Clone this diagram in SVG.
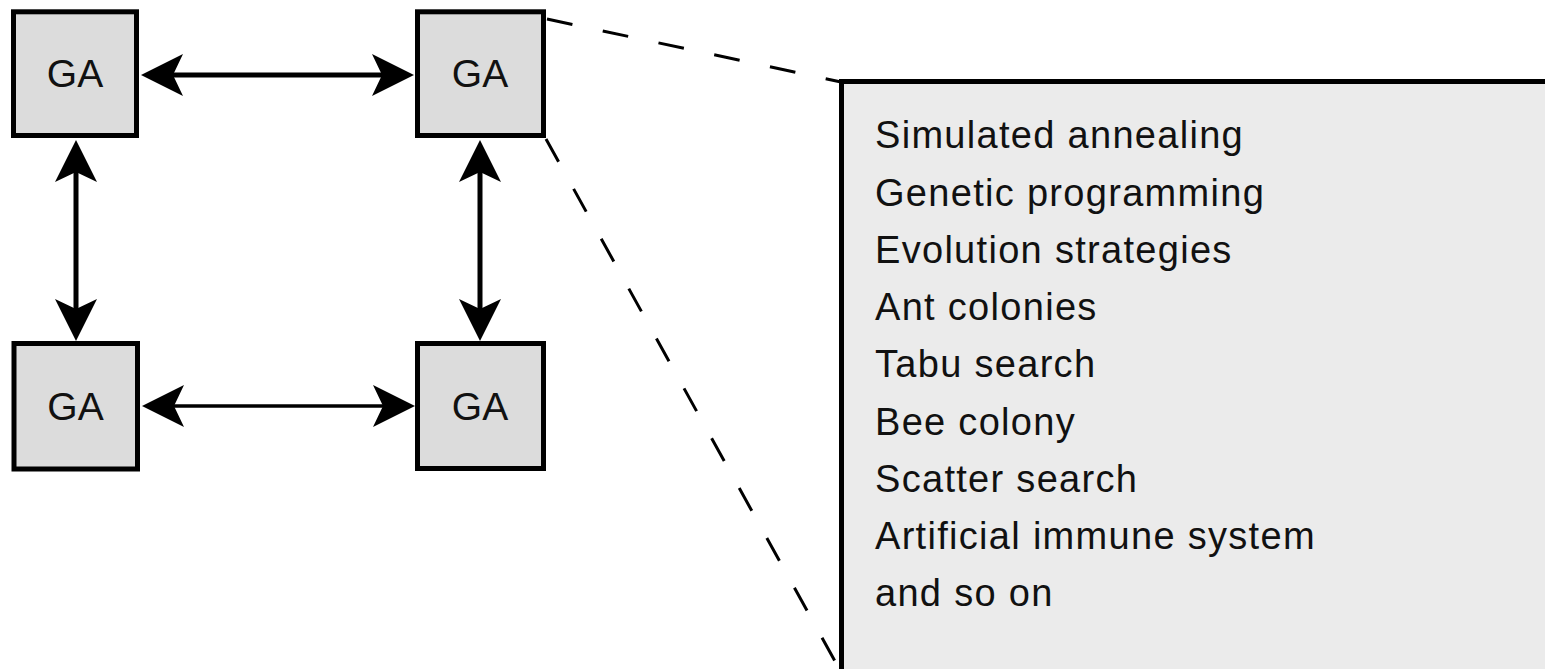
<svg xmlns="http://www.w3.org/2000/svg" width="1545" height="669" viewBox="0 0 1545 669">
  <style>
    .ga rect { fill: #dcdcdc; stroke: #000; stroke-width: 5; }
    .ga text { font-family: "Liberation Sans", Arial, sans-serif; font-size: 39px; fill: #111; text-anchor: middle; }
    .link { stroke: #000; fill: none; }
    .dash { stroke: #000; stroke-width: 3; fill: none; stroke-dasharray: 26 31; }
    .list text { font-family: "Liberation Sans", Arial, sans-serif; font-size: 38px; fill: #111; letter-spacing: 1.3px; }
  </style>
  <defs>
    <!-- barbed arrowhead, tip 30px past the line end -->
    <marker id="head" viewBox="0 0 42 42" markerUnits="userSpaceOnUse" markerWidth="42" markerHeight="42" refX="12" refY="21" orient="auto-start-reverse">
      <path d="M42,21 L0,0 L10,21 L0,42 Z" fill="#000"/>
    </marker>
  </defs>

  <rect width="1545" height="669" fill="#fff"/>

  <!-- zoom-out lines to the detail panel -->
  <g id="zoom-lines">
    <path class="dash" d="M547,19 L841,82"/>
    <path class="dash" d="M546,139 L841,672"/>
  </g>

  <!-- detail panel listing alternative methods -->
  <g id="methods" class="list">
    <rect x="841.5" y="81.5" width="720" height="620" fill="#ebebeb" stroke="#000" stroke-width="5"/>
    <text x="875" y="148">Simulated annealing</text>
    <text x="875" y="205.5">Genetic programming</text>
    <text x="875" y="262.7">Evolution strategies</text>
    <text x="875" y="320">Ant colonies</text>
    <text x="875" y="377">Tabu search</text>
    <text x="875" y="434.5">Bee colony</text>
    <text x="875" y="491.5">Scatter search</text>
    <text x="875" y="548.5">Artificial immune system</text>
    <text x="875" y="605.7">and so on</text>
  </g>

  <!-- bidirectional links between the island GAs -->
  <g id="connectors">
    <line class="link" stroke-width="5" x1="171" y1="75" x2="384" y2="75" marker-start="url(#head)" marker-end="url(#head)"/>
    <line class="link" stroke-width="3.5" x1="172" y1="406" x2="385" y2="406" marker-start="url(#head)" marker-end="url(#head)"/>
    <line class="link" stroke-width="5" x1="76" y1="170" x2="76" y2="311" marker-start="url(#head)" marker-end="url(#head)"/>
    <line class="link" stroke-width="5" x1="480" y1="170" x2="480" y2="311" marker-start="url(#head)" marker-end="url(#head)"/>
  </g>

  <g id="ga-top-left" class="ga">
    <rect x="13.5" y="11.8" width="123" height="123.7"/>
    <text x="75" y="87">GA</text>
  </g>
  <g id="ga-top-right" class="ga">
    <rect x="417.5" y="11.8" width="126" height="123.7"/>
    <text x="480" y="87">GA</text>
  </g>
  <g id="ga-bottom-left" class="ga">
    <rect x="14" y="343.5" width="123.5" height="125.5"/>
    <text x="75.5" y="420">GA</text>
  </g>
  <g id="ga-bottom-right" class="ga">
    <rect x="417.5" y="343.5" width="126" height="125"/>
    <text x="480" y="420">GA</text>
  </g>
</svg>
